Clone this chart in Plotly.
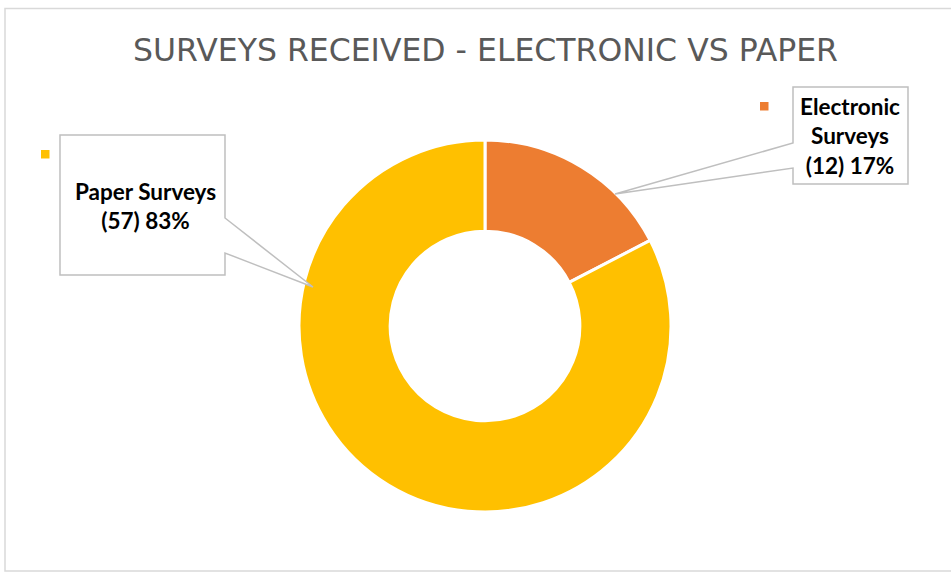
import plotly.graph_objects as go

# Survey counts by channel
labels = ["Electronic Surveys", "Paper Surveys"]
counts = [12, 57]
colors = ["#ED7D31", "#FFC000"]

W, H = 951, 572
total = sum(counts)
pcts = [round(100 * c / total) for c in counts]


def px(x):
    return x / W


def py(y):
    return 1 - y / H


def path(points):
    return "M " + " L ".join(f"{px(x):.5f},{py(y):.5f}" for x, y in points) + " Z"


fig = go.Figure(
    go.Pie(
        labels=labels,
        values=counts,
        hole=0.51,
        sort=False,
        direction="clockwise",
        rotation=0,
        textinfo="none",
        hoverinfo="label+value+percent",
        marker=dict(colors=colors, line=dict(color="white", width=3)),
        domain=dict(x=[px(299), px(671)], y=[py(512), py(140)]),
        showlegend=False,
    )
)

shapes = [
    # chart area frame
    dict(type="rect", xref="paper", yref="paper",
         x0=px(5), y0=py(571), x1=px(955), y1=py(8.5),
         line=dict(color="#D9D9D9", width=1.5), fillcolor="rgba(0,0,0,0)", layer="below"),
    # callout for paper surveys
    dict(type="path", xref="paper", yref="paper",
         path=path([(60, 135), (225, 135), (225, 218), (313, 287), (225, 253), (225, 275), (60, 275)]),
         line=dict(color="#BFBFBF", width=1.5), fillcolor="white"),
    # callout for electronic surveys
    dict(type="path", xref="paper", yref="paper",
         path=path([(793, 87), (908, 87), (908, 184), (793, 184), (793, 168), (615, 194), (793, 143)]),
         line=dict(color="#BFBFBF", width=1.5), fillcolor="white"),
    # legend keys
    dict(type="rect", xref="paper", yref="paper",
         x0=px(41), y0=py(158.5), x1=px(49.5), y1=py(150), line=dict(width=0), fillcolor=colors[1]),
    dict(type="rect", xref="paper", yref="paper",
         x0=px(760), y0=py(110.5), x1=px(768.5), y1=py(102), line=dict(width=0), fillcolor=colors[0]),
]

label_font = dict(family="Lato", size=22.5, color="#000000")
annotations = [
    dict(text="SURVEYS RECEIVED - ELECTRONIC VS PAPER", x=px(485), y=py(50),
         xref="paper", yref="paper", xanchor="center", yanchor="middle", showarrow=False,
         font=dict(family="DejaVu Sans", size=31.5, color="#595959")),
    dict(text=f"<b>Paper Surveys<br>({counts[1]}) {pcts[1]}%</b>", x=px(145), y=py(206),
         xref="paper", yref="paper", xanchor="center", yanchor="middle", showarrow=False,
         align="center", font=label_font),
    dict(text=f"<b>Electronic<br>Surveys<br>({counts[0]}) {pcts[0]}%</b>", x=px(850), y=py(136),
         xref="paper", yref="paper", xanchor="center", yanchor="middle", showarrow=False,
         align="center", font=label_font),
]

fig.update_layout(
    width=W, height=H,
    margin=dict(l=0, r=0, t=0, b=0),
    paper_bgcolor="white", plot_bgcolor="white",
    shapes=shapes, annotations=annotations,
)

fig.write_html("out.html")
